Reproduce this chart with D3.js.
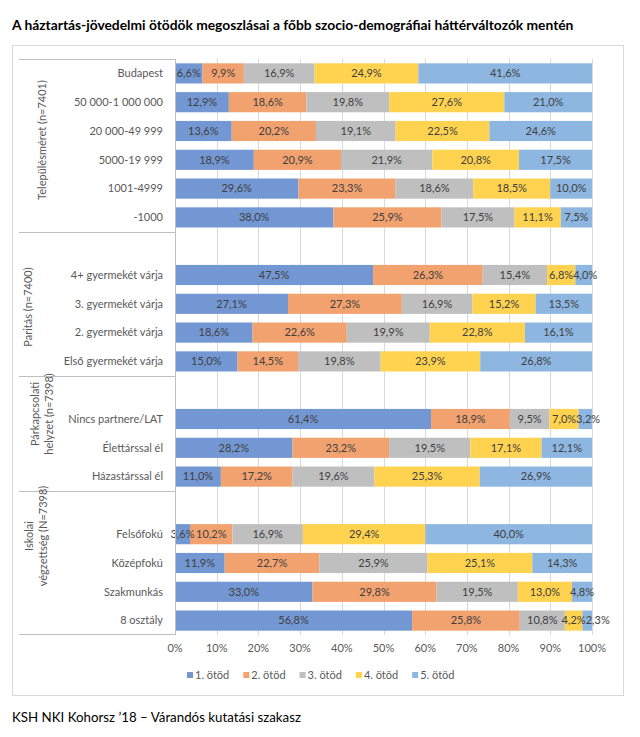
<!DOCTYPE html>
<html lang="hu">
<head>
    <meta charset="UTF-8">
    <title>Háztartás-jövedelmi ötödök</title>
    <script src="https://d3js.org/d3.v7.min.js"></script>
    <style>
        body { margin: 0; background: #fff; }
        svg { font-family: Lato, "Open Sans", sans-serif; }
        .grid line { stroke: #d9d9d9; stroke-width: 1px; }
        .tick-label, .cat-label, .group-label, .legend text { fill: #595959; font-size: 11px; }
        .val { fill: #404040; font-size: 11px; }
    </style>
</head>
<body>
    <svg width="640" height="737"></svg>

    <script>
        // series
        const seriesNames = ["1. ötöd", "2. ötöd", "3. ötöd", "4. ötöd", "5. ötöd"];
        const seriesColors = ["#7397d2", "#f1a26f", "#bfbfbf", "#ffd24f", "#8db6e1"];
        const xTicks = [0, 10, 20, 30, 40, 50, 60, 70, 80, 90, 100];

        // groups (top to bottom)
        const groupLabels = [
            ["Településméret (n=7401)"],
            ["Paritás (n=7400)"],
            ["Párkapcsolati", "helyzet (n=7398)"],
            ["Iskolai", "végzettség (N=7398)"]
        ];

        const telepulesCats = ["Budapest", "50 000-1 000 000", "20 000-49 999", "5000-19 999", "1001-4999", "-1000"];
        const telepulesVals = [
            [6.6, 9.9, 16.9, 24.9, 41.6],
            [12.9, 18.6, 19.8, 27.6, 21.0],
            [13.6, 20.2, 19.1, 22.5, 24.6],
            [18.9, 20.9, 21.9, 20.8, 17.5],
            [29.6, 23.3, 18.6, 18.5, 10.0],
            [38.0, 25.9, 17.5, 11.1, 7.5]
        ];

        const paritasCats = ["4+ gyermekét várja", "3. gyermekét várja", "2. gyermekét várja", "Első gyermekét várja"];
        const paritasVals = [
            [47.5, 26.3, 15.4, 6.8, 4.0],
            [27.1, 27.3, 16.9, 15.2, 13.5],
            [18.6, 22.6, 19.9, 22.8, 16.1],
            [15.0, 14.5, 19.8, 23.9, 26.8]
        ];

        const parkapcsCats = ["Nincs partnere/LAT", "Élettárssal él", "Házastárssal él"];
        const parkapcsVals = [
            [61.4, 18.9, 9.5, 7.0, 3.2],
            [28.2, 23.2, 19.5, 17.1, 12.1],
            [11.0, 17.2, 19.6, 25.3, 26.9]
        ];

        const iskolaiCats = ["Felsőfokú", "Középfokú", "Szakmunkás", "8 osztály"];
        const iskolaiVals = [
            [3.6, 10.2, 16.9, 29.4, 40.0],
            [11.9, 22.7, 25.9, 25.1, 14.3],
            [33.0, 29.8, 19.5, 13.0, 4.8],
            [56.8, 25.8, 10.8, 4.2, 2.3]
        ];

        const groups = [
            { cats: telepulesCats, vals: telepulesVals },
            { cats: paritasCats, vals: paritasVals },
            { cats: parkapcsCats, vals: parkapcsVals },
            { cats: iskolaiCats, vals: iskolaiVals }
        ];

        // rows incl. one empty row on top of every group after the first
        const rows = [];
        groups.forEach((g, gi) => {
            if (gi > 0) rows.push({ key: "gap" + gi, gap: true, group: gi });
            g.cats.forEach((c, ci) => rows.push({ key: c, label: c, vals: g.vals[ci], group: gi }));
        });

        const svg = d3.select("svg");
        const plotLeft = 175, plotRight = 592, plotTop = 59, plotBottom = 635;

        const x = d3.scaleLinear().domain([0, 100]).range([plotLeft, plotRight]);
        const y = d3.scaleBand()
            .domain(rows.map(r => r.key))
            .range([plotTop, plotBottom])
            .paddingInner(0.3)
            .paddingOuter(0.15);
        const color = d3.scaleOrdinal().domain(seriesNames).range(seriesColors);
        const rowTop = key => y(key) - y.paddingInner() * y.step() / 2;

        // shrink a text until it fits the given width
        function fitWidth(sel, w) {
            let fs = +sel.attr("font-size");
            while (sel.node().getComputedTextLength() > w && fs > 6) {
                fs -= 0.1;
                sel.attr("font-size", fs);
            }
            while (sel.node().getComputedTextLength() < w - 2) {
                fs += 0.1;
                sel.attr("font-size", fs);
            }
        }

        // title + frame
        const title = svg.append("text")
            .attr("x", 12).attr("y", 30)
            .attr("font-size", 14).attr("font-weight", "bold").attr("fill", "#000")
            .text("A háztartás-jövedelmi ötödök megoszlásai a főbb szocio-demográfiai háttérváltozók mentén");
        fitWidth(title, 563);

        svg.append("rect")
            .attr("x", 12.5).attr("y", 45.5).attr("width", 611).attr("height", 650)
            .attr("fill", "none").attr("stroke", "#d9d9d9");

        // gridlines
        svg.append("g").attr("class", "grid")
            .selectAll("line").data(xTicks.slice(1)).join("line")
            .attr("x1", d => Math.round(x(d)) + 0.5).attr("x2", d => Math.round(x(d)) + 0.5)
            .attr("y1", plotTop).attr("y2", plotBottom);

        // stacked bars
        const dataRows = rows.filter(r => !r.gap);
        dataRows.forEach(r => {
            const total = d3.sum(r.vals);
            let acc = 0;
            r.segs = r.vals.map((v, i) => {
                const s = { name: seriesNames[i], v: v, x0: acc / total * 100, x1: (acc + v) / total * 100 };
                acc += v;
                return s;
            });
        });

        const rowG = svg.append("g").selectAll("g").data(dataRows).join("g")
            .attr("transform", d => `translate(0,${y(d.key)})`);

        rowG.selectAll("rect").data(d => d.segs).join("rect")
            .attr("x", d => x(d.x0))
            .attr("width", d => x(d.x1) - x(d.x0))
            .attr("height", y.bandwidth())
            .attr("fill", d => color(d.name));

        rowG.each(function () {
            const labels = d3.select(this).selectAll("text").data(d => d.segs).join("text")
                .attr("class", "val")
                .attr("x", d => (x(d.x0) + x(d.x1)) / 2)
                .attr("y", y.bandwidth() / 2)
                .attr("dy", "0.35em")
                .attr("text-anchor", "middle")
                .text(d => d.v.toFixed(1).replace(".", ",") + "%");
            // push a label right when it runs into the previous one
            let prevEnd = -Infinity;
            labels.each(function () {
                const t = d3.select(this);
                const w = this.getComputedTextLength();
                let cx = +t.attr("x");
                if (cx - w / 2 < prevEnd) {
                    cx = prevEnd + w / 2;
                    t.attr("x", cx);
                }
                prevEnd = cx + w / 2;
            });
        });

        // category axis
        svg.append("line")
            .attr("x1", plotLeft + 0.5).attr("x2", plotLeft + 0.5)
            .attr("y1", plotTop).attr("y2", plotBottom)
            .attr("stroke", "#bfbfbf");

        svg.append("g").selectAll("text").data(dataRows).join("text")
            .attr("class", "cat-label")
            .attr("x", 163)
            .attr("y", d => y(d.key) + y.bandwidth() / 2)
            .attr("dy", "0.35em")
            .attr("text-anchor", "end")
            .text(d => d.label);

        // group separators
        const bounds = groups.map((g, gi) => rowTop(gi === 0 ? g.cats[0] : "gap" + gi));
        bounds.push(plotBottom - 1);
        svg.append("g").selectAll("line").data(bounds).join("line")
            .attr("x1", 19).attr("x2", plotLeft)
            .attr("y1", d => Math.round(d) + 0.5).attr("y2", d => Math.round(d) + 0.5)
            .attr("stroke", "#bfbfbf");

        // group labels (rotated)
        const groupLabelX = [[42], [28], [35, 49], [29, 43]];
        const groupLabelY = [140, 307, 414, 536];
        groupLabels.forEach((lines, gi) => {
            lines.forEach((t, li) => {
                svg.append("text")
                    .attr("class", "group-label")
                    .attr("transform", `translate(${groupLabelX[gi][li]},${groupLabelY[gi]}) rotate(-90)`)
                    .attr("text-anchor", "middle")
                    .attr("dy", "0.35em")
                    .text(t);
            });
        });

        // x axis labels
        svg.append("g").selectAll("text").data(xTicks).join("text")
            .attr("class", "tick-label")
            .attr("x", d => x(d))
            .attr("y", 648)
            .attr("dy", "0.35em")
            .attr("text-anchor", "middle")
            .text(d => d + "%");

        // legend
        const legend = svg.append("g").attr("class", "legend")
            .selectAll("g").data(seriesNames).join("g")
            .attr("transform", (d, i) => `translate(${187 + i * 56.3},675)`);
        legend.append("rect")
            .attr("x", 0).attr("y", -3).attr("width", 6).attr("height", 6)
            .attr("fill", d => color(d));
        legend.append("text")
            .attr("x", 8).attr("dy", "0.35em")
            .text(d => d);

        // source
        const source = svg.append("text")
            .attr("x", 12).attr("y", 722)
            .attr("font-size", 13).attr("fill", "#000")
            .text("KSH NKI Kohorsz ’18 – Várandós kutatási szakasz");
        fitWidth(source, 290);
    </script>
</body>
</html>
